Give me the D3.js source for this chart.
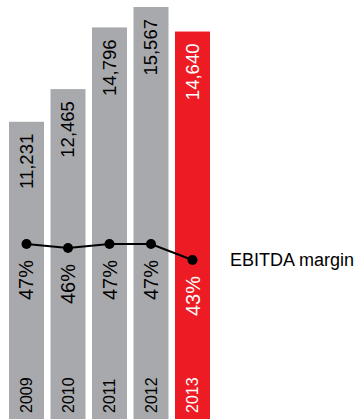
<!DOCTYPE html>
<html>
<head>
<meta charset="utf-8">
<script src="https://cdn.jsdelivr.net/npm/d3@7"></script>
<style>
  body { margin: 0; background: #fff; }
  text { font-family: "Liberation Sans", Arial, sans-serif; }
</style>
</head>
<body>
<div id="chart"></div>
<script>
const years = ["2009", "2010", "2011", "2012", "2013"];
const ebitda = [11231, 12465, 14796, 15567, 14640];
const margins = [47, 46, 47, 47, 43];
const seriesLabel = "EBITDA margin";

(function() {
  const width = 358;
  const height = 419;
  const grey = "#a7a9ac";
  const red = "#ed1c24";
  const last = years.length - 1;

  const svg = d3.select("#chart").append("svg")
    .attr("width", width)
    .attr("height", height);

  const x = d3.scaleBand()
    .domain(years)
    .range([9, 210])
    .paddingInner(0.157)
    .paddingOuter(0);

  const y = d3.scaleLinear()
    .domain([0, 15567])
    .range([height, 7]);

  // margin line sits on its own scale
  const ym = d3.scaleLinear()
    .domain([40, 50])
    .range([272, 232]);

  const cx = d => x(d) + x.bandwidth() / 2;
  const fillFor = i => i === last ? red : grey;
  const textFor = i => i === last ? "#fff" : "#000";

  svg.selectAll(".bar")
    .data(ebitda)
    .enter()
    .append("rect")
    .attr("class", "bar")
    .attr("x", (d, i) => x(years[i]))
    .attr("y", d => y(d))
    .attr("width", x.bandwidth())
    .attr("height", d => height - y(d))
    .attr("fill", (d, i) => fillFor(i));

  svg.selectAll(".value-label")
    .data(ebitda)
    .enter()
    .append("text")
    .attr("class", "value-label")
    .attr("transform", (d, i) => `translate(${cx(years[i])}, ${y(d) + 12}) rotate(-90)`)
    .attr("text-anchor", "end")
    .attr("dy", "0.35em")
    .attr("font-size", "18.5px")
    .attr("fill", (d, i) => textFor(i))
    .text(d => d3.format(",")(d));

  svg.selectAll(".year-label")
    .data(years)
    .enter()
    .append("text")
    .attr("class", "year-label")
    .attr("transform", d => `translate(${cx(d)}, ${height - 6}) rotate(-90)`)
    .attr("text-anchor", "start")
    .attr("dy", "0.35em")
    .attr("font-size", "16px")
    .attr("fill", (d, i) => textFor(i))
    .text(d => d);

  const line = d3.line()
    .x((d, i) => cx(years[i]))
    .y(d => ym(d));

  svg.append("path")
    .datum(margins)
    .attr("d", line)
    .attr("fill", "none")
    .attr("stroke", "#000")
    .attr("stroke-width", 2);

  svg.selectAll(".dot")
    .data(margins)
    .enter()
    .append("circle")
    .attr("class", "dot")
    .attr("cx", (d, i) => cx(years[i]))
    .attr("cy", d => ym(d))
    .attr("r", 5)
    .attr("fill", "#000");

  svg.selectAll(".pct-label")
    .data(margins)
    .enter()
    .append("text")
    .attr("class", "pct-label")
    .attr("transform", (d, i) => `translate(${cx(years[i])}, ${ym(d) + 36}) rotate(-90)`)
    .attr("text-anchor", "middle")
    .attr("dy", "0.35em")
    .attr("font-size", "20px")
    .attr("fill", (d, i) => textFor(i))
    .text(d => d + "%");

  svg.append("text")
    .attr("x", 230)
    .attr("y", ym(margins[last]))
    .attr("dy", "0.35em")
    .attr("font-size", "18px")
    .attr("fill", "#000")
    .text(seriesLabel);
})();
</script>
</body>
</html>
